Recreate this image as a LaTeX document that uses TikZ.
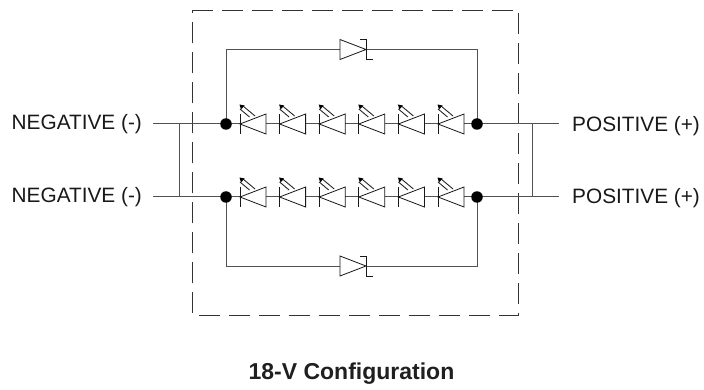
\documentclass[tikz,border=0pt]{standalone}
\usepackage{fontspec}
\setmainfont{Liberation Sans}
\pgfdeclarelayer{under}
\pgfsetlayers{under,main}
\begin{document}
\begin{tikzpicture}[x=1pt,y=-1pt,
  wire/.style={draw=black!68,line width=1pt},
  sym/.style={draw=black!90,line width=0.8pt},
  junction/.style={circle,fill=black,inner sep=0pt,minimum size=11.5pt},
  lbl/.style={font=\fontsize{20.8}{24}\selectfont,inner sep=0pt,text=black!90},
  capt/.style={font=\fontsize{23}{26}\selectfont\bfseries,inner sep=0pt,text=black!88},
  anchorpt/.style={inner sep=0pt,minimum size=0pt},
  led/.pic={
    \draw[sym] (0,-10) -- (0,10);
    \draw[sym] (0,0) -- (26,-10) -- (26,10) -- cycle;
    \draw[line width=0.9pt,draw=black!85] (15,-8) -- (3,-18);
    \draw[line width=0.9pt,draw=black!85] (9.5,-7) -- (0,-15);
    \fill (-0.5,-19.5) -- (4.5,-18.5) -- (1,-14.5) -- cycle;
    \coordinate (-k) at (0,0);
    \coordinate (-a) at (26,0);
  },
  zener/.pic={
    \draw[sym] (0,-10) -- (26,0) -- (0,10) -- cycle;
    \draw[sym] (20,-10) -- (26,-10) -- (26,10) -- (33,10);
    \coordinate (-a) at (0,0);
    \coordinate (-k) at (26,0);
  }]
\useasboundingbox (0,0) rectangle (704,390);
\begin{pgfonlayer}{under}
\fill[white] (0,0) rectangle (704,390);
\draw[black!80,line width=0.9pt,dash pattern=on 21pt off 9pt] (192,10) -- (518.7,10) -- (518.7,315) -- (192,315) -- cycle;
\end{pgfonlayer}

\node[junction] (jlt) at (226,124) {};
\node[junction] (jlb) at (226,197) {};
\node[junction] (jrt) at (477,124) {};
\node[junction] (jrb) at (477,197) {};
\node[anchorpt] (ntl) at (153,124) {};
\node[anchorpt] (nbl) at (153,197) {};
\node[anchorpt] (ptr) at (559,124) {};
\node[anchorpt] (pbr) at (559,197) {};
\coordinate (tapltop) at (179.3,124);
\coordinate (taplbot) at (179.3,197);
\coordinate (taprtop) at (532.7,124);
\coordinate (taprbot) at (532.7,197);

\foreach \r/\y in {t/124,b/197}{
  \foreach \i/\x in {1/240,2/279.6,3/319.2,4/358.8,5/398.4,6/438}{
    \pic (l\r\i) at (\x,\y) {led};
  }
  \begin{pgfonlayer}{under}
  \draw[wire] (l\r1-a) -- (l\r2-k);
  \draw[wire] (l\r2-a) -- (l\r3-k);
  \draw[wire] (l\r3-a) -- (l\r4-k);
  \draw[wire] (l\r4-a) -- (l\r5-k);
  \draw[wire] (l\r5-a) -- (l\r6-k);
  \draw[wire] (jl\r.center) -- (l\r1-k);
  \draw[wire] (l\r6-a) -- (jr\r.center);
  \end{pgfonlayer}
}
\pic (zt) at (340,49.5) {zener};
\pic (zb) at (340,266) {zener};
\begin{pgfonlayer}{under}
\draw[wire] (jlt.center) |- (zt-a);
\draw[wire] (zt-k) -| (jrt.center);
\draw[wire] (jlb.center) |- (zb-a);
\draw[wire] (zb-k) -| (jrb.center);
\draw[wire] (ntl.center) -- (jlt.center);
\draw[wire] (nbl.center) -- (jlb.center);
\draw[wire] (jrt.center) -- (ptr.center);
\draw[wire] (jrb.center) -- (pbr.center);
\draw[wire] (tapltop) -- (taplbot);
\draw[wire] (taprtop) -- (taprbot);
\end{pgfonlayer}
\node[lbl,anchor=west] (nega) at (11.5,124.5) {NEGATIVE (-)};
\node[lbl,anchor=west] (negb) at (11.5,197.5) {NEGATIVE (-)};
\node[lbl,anchor=west] (posa) at (572,126) {POSITIVE (+)};
\node[lbl,anchor=west] (posb) at (572,198.5) {POSITIVE (+)};
\node[capt] (title) at (351.5,374) {18-V Configuration};
\end{tikzpicture}
\end{document}
